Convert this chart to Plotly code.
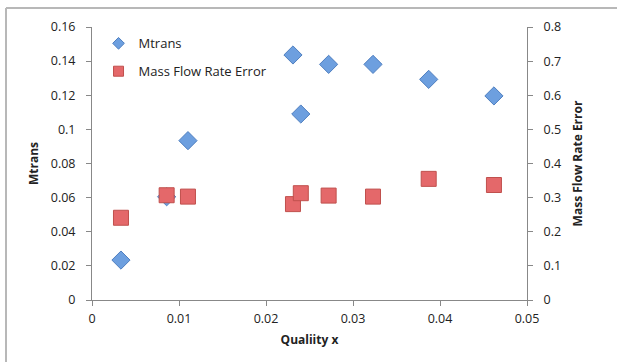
import plotly.graph_objects as go

quality_x = [0.00333, 0.00858, 0.01103, 0.0231, 0.0240, 0.0272, 0.0323, 0.0387, 0.0462]
mtrans = [0.0234, 0.0605, 0.0934, 0.1436, 0.1090, 0.1381, 0.1381, 0.1293, 0.1196]
mass_flow_err = [0.241, 0.307, 0.303, 0.281, 0.313, 0.306, 0.303, 0.355, 0.337]

left_ticks = [0, 0.02, 0.04, 0.06, 0.08, 0.1, 0.12, 0.14, 0.16]
left_labels = ["0", "0.02", "0.04", "0.06", "0.08", "0.1", "0.12", "0.14", "0.16"]
right_ticks = [0, 0.1, 0.2, 0.3, 0.4, 0.5, 0.6, 0.7, 0.8]
right_labels = ["0", "0.1", "0.2", "0.3", "0.4", "0.5", "0.6", "0.7", "0.8"]
x_ticks = [0, 0.01, 0.02, 0.03, 0.04, 0.05]
x_labels = ["0", "0.01", "0.02", "0.03", "0.04", "0.05"]

FONT = "Open Sans"
AX = "#888888"
BLUE, BLUE_EDGE = "#6d9fdf", "#4f7fc0"
RED, RED_EDGE = "#e4686a", "#c0504d"

fig = go.Figure()
fig.add_trace(go.Scatter(
    x=quality_x, y=mtrans, mode="markers", name="Mtrans", showlegend=False,
    marker=dict(symbol="diamond", size=14, color=BLUE, line=dict(color=BLUE_EDGE, width=1)),
    yaxis="y"))
fig.add_trace(go.Scatter(
    x=quality_x, y=mass_flow_err, mode="markers", name="Mass Flow Rate Error", showlegend=False,
    marker=dict(symbol="square", size=15, color=RED, line=dict(color=RED_EDGE, width=1)),
    yaxis="y2"))
# legend entries with smaller symbols, like the reference
fig.add_trace(go.Scatter(
    x=[None], y=[None], mode="markers", name="Mtrans", legendgroup="a",
    marker=dict(symbol="diamond", size=9, color=BLUE, line=dict(color=BLUE_EDGE, width=1))))
fig.add_trace(go.Scatter(
    x=[None], y=[None], mode="markers", name="Mass Flow Rate Error", legendgroup="b",
    marker=dict(symbol="square", size=10, color=RED, line=dict(color=RED_EDGE, width=1))))

fig.update_layout(
    width=617, height=362,
    margin=dict(l=92, r=90, t=27, b=62),
    paper_bgcolor="white", plot_bgcolor="white",
    font=dict(family=FONT, size=12.5, color="#222222"),
    showlegend=True,
    legend=dict(x=0.015, y=0.995, xanchor="left", yanchor="top",
                bgcolor="rgba(0,0,0,0)", font=dict(size=13, color="#222222"),
                itemwidth=30, tracegroupgap=8),
    xaxis=dict(range=[0, 0.05], tickvals=x_ticks, ticktext=x_labels,
               showgrid=False, zeroline=False, showline=True, linecolor=AX,
               linewidth=1, ticks="outside", ticklen=5, tickcolor=AX, ticklabelstandoff=2,
               title=dict(text="<b>Qualiity x</b>", font=dict(size=12), standoff=9)),
    yaxis=dict(range=[0, 0.16], tickvals=left_ticks, ticktext=left_labels,
               showgrid=False, zeroline=False, showline=True, linecolor=AX,
               linewidth=1, ticks="outside", ticklen=5, tickcolor=AX, ticklabelstandoff=8,
               title=dict(text="<b>Mtrans</b>", font=dict(size=12), standoff=9)),
    yaxis2=dict(range=[0, 0.8], tickvals=right_ticks, ticktext=right_labels,
                overlaying="y", side="right",
                showgrid=False, zeroline=False, showline=True, linecolor=AX,
                linewidth=1, ticks="outside", ticklen=5, tickcolor=AX, ticklabelstandoff=8,
                title=dict(text="<b>Mass Flow Rate Error</b>", font=dict(size=12), standoff=13)),
    shapes=[
        dict(type="line", xref="paper", yref="paper", x0=-86/435, x1=525/435,
             y0=1 + 19/273, y1=1 + 19/273, line=dict(color="#b8b8b8", width=2)),
        dict(type="line", xref="paper", yref="paper", x0=-86/435, x1=-86/435,
             y0=-70/273, y1=1 + 19/273, line=dict(color="#b8b8b8", width=2)),
    ],
)

fig.write_html("out.html")
